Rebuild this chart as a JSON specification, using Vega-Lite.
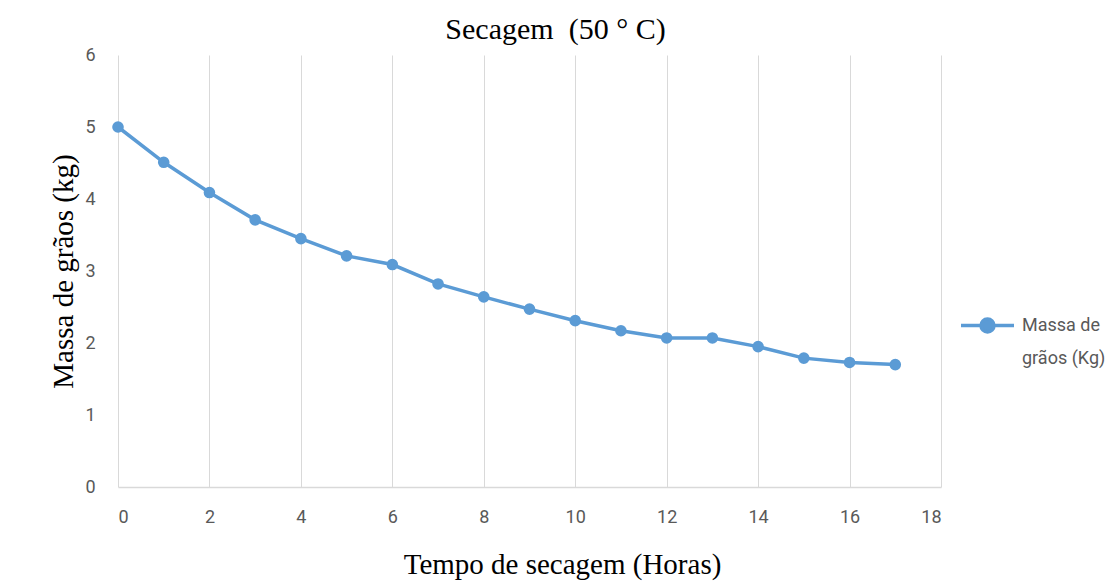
{
  "$schema": "https://vega.github.io/schema/vega-lite/v6.json",
  "autosize": {"type": "none"},
  "padding": {"left": 118, "top": 55, "right": 170, "bottom": 95},
  "width": 823,
  "height": 432,
  "background": "white",
  "title": {
    "text": "Secagem\u00a0 (50 ° C)",
    "font": "Liberation Serif",
    "fontSize": 30,
    "fontWeight": "normal",
    "color": "#000000",
    "anchor": "middle",
    "dx": 26,
    "offset": 1
  },
  "config": {
    "view": {"stroke": null},
    "style": {"guide-label": {"lineHeight": 33}}
  },
  "data": {
    "values": [
      {"tempo": 0, "massa": 5.0, "serie": "Massa de grãos (Kg)"},
      {"tempo": 1, "massa": 4.51, "serie": "Massa de grãos (Kg)"},
      {"tempo": 2, "massa": 4.09, "serie": "Massa de grãos (Kg)"},
      {"tempo": 3, "massa": 3.71, "serie": "Massa de grãos (Kg)"},
      {"tempo": 4, "massa": 3.45, "serie": "Massa de grãos (Kg)"},
      {"tempo": 5, "massa": 3.21, "serie": "Massa de grãos (Kg)"},
      {"tempo": 6, "massa": 3.09, "serie": "Massa de grãos (Kg)"},
      {"tempo": 7, "massa": 2.82, "serie": "Massa de grãos (Kg)"},
      {"tempo": 8, "massa": 2.64, "serie": "Massa de grãos (Kg)"},
      {"tempo": 9, "massa": 2.47, "serie": "Massa de grãos (Kg)"},
      {"tempo": 10, "massa": 2.31, "serie": "Massa de grãos (Kg)"},
      {"tempo": 11, "massa": 2.17, "serie": "Massa de grãos (Kg)"},
      {"tempo": 12, "massa": 2.07, "serie": "Massa de grãos (Kg)"},
      {"tempo": 13, "massa": 2.07, "serie": "Massa de grãos (Kg)"},
      {"tempo": 14, "massa": 1.95, "serie": "Massa de grãos (Kg)"},
      {"tempo": 15, "massa": 1.79, "serie": "Massa de grãos (Kg)"},
      {"tempo": 16, "massa": 1.73, "serie": "Massa de grãos (Kg)"},
      {"tempo": 17, "massa": 1.7, "serie": "Massa de grãos (Kg)"}
    ]
  },
  "mark": {
    "type": "line",
    "strokeWidth": 3.5,
    "point": {"filled": true, "size": 135, "opacity": 1}
  },
  "encoding": {
    "x": {
      "field": "tempo",
      "type": "quantitative",
      "scale": {"domain": [0, 18], "nice": false},
      "axis": {
        "title": "Tempo de secagem (Horas)",
        "titleFont": "Liberation Serif",
        "titleFontSize": 29,
        "titleFontWeight": "normal",
        "titleColor": "#000000",
        "titlePadding": 24,
        "titleX": 444,
        "values": [0, 2, 4, 6, 8, 10, 12, 14, 16, 18],
        "labelFont": "Roboto",
        "labelFontSize": 18,
        "labelColor": "#595959",
        "labelPadding": 21,
        "ticks": false,
        "grid": true,
        "gridColor": "#d9d9d9",
        "gridWidth": 1,
        "domain": true,
        "domainColor": "#d9d9d9",
        "domainWidth": 1.5
      }
    },
    "y": {
      "field": "massa",
      "type": "quantitative",
      "scale": {"domain": [0, 6], "nice": false},
      "axis": {
        "title": "Massa de grãos (kg)",
        "titleFont": "Liberation Serif",
        "titleFontSize": 29,
        "titleFontWeight": "normal",
        "titleColor": "#000000",
        "titlePadding": 6,
        "values": [0, 1, 2, 3, 4, 5, 6],
        "labelFont": "Roboto",
        "labelFontSize": 18,
        "labelColor": "#595959",
        "labelPadding": 23,
        "ticks": false,
        "grid": false,
        "domain": false
      }
    },
    "color": {
      "field": "serie",
      "type": "nominal",
      "scale": {"range": ["#5B9BD5"]},
      "legend": {
        "title": null,
        "orient": "none",
        "legendX": 841,
        "legendY": 242,
        "symbolType": "M-1,0H1M0.245,0A0.245,0.245,0,1,1,-0.245,0A0.245,0.245,0,1,1,0.245,0Z",
        "symbolSize": 2809,
        "symbolStrokeWidth": 3.5,
        "symbolFillColor": "#5B9BD5",
        "symbolStrokeColor": "#5B9BD5",
        "labelExpr": "['Massa de', 'grãos (Kg)']",
        "labelFont": "Roboto",
        "labelFontSize": 18,
        "labelColor": "#595959",
        "labelLimit": 400,
        "labelOffset": 6,
        "labelBaseline": "middle"
      }
    }
  }
}
